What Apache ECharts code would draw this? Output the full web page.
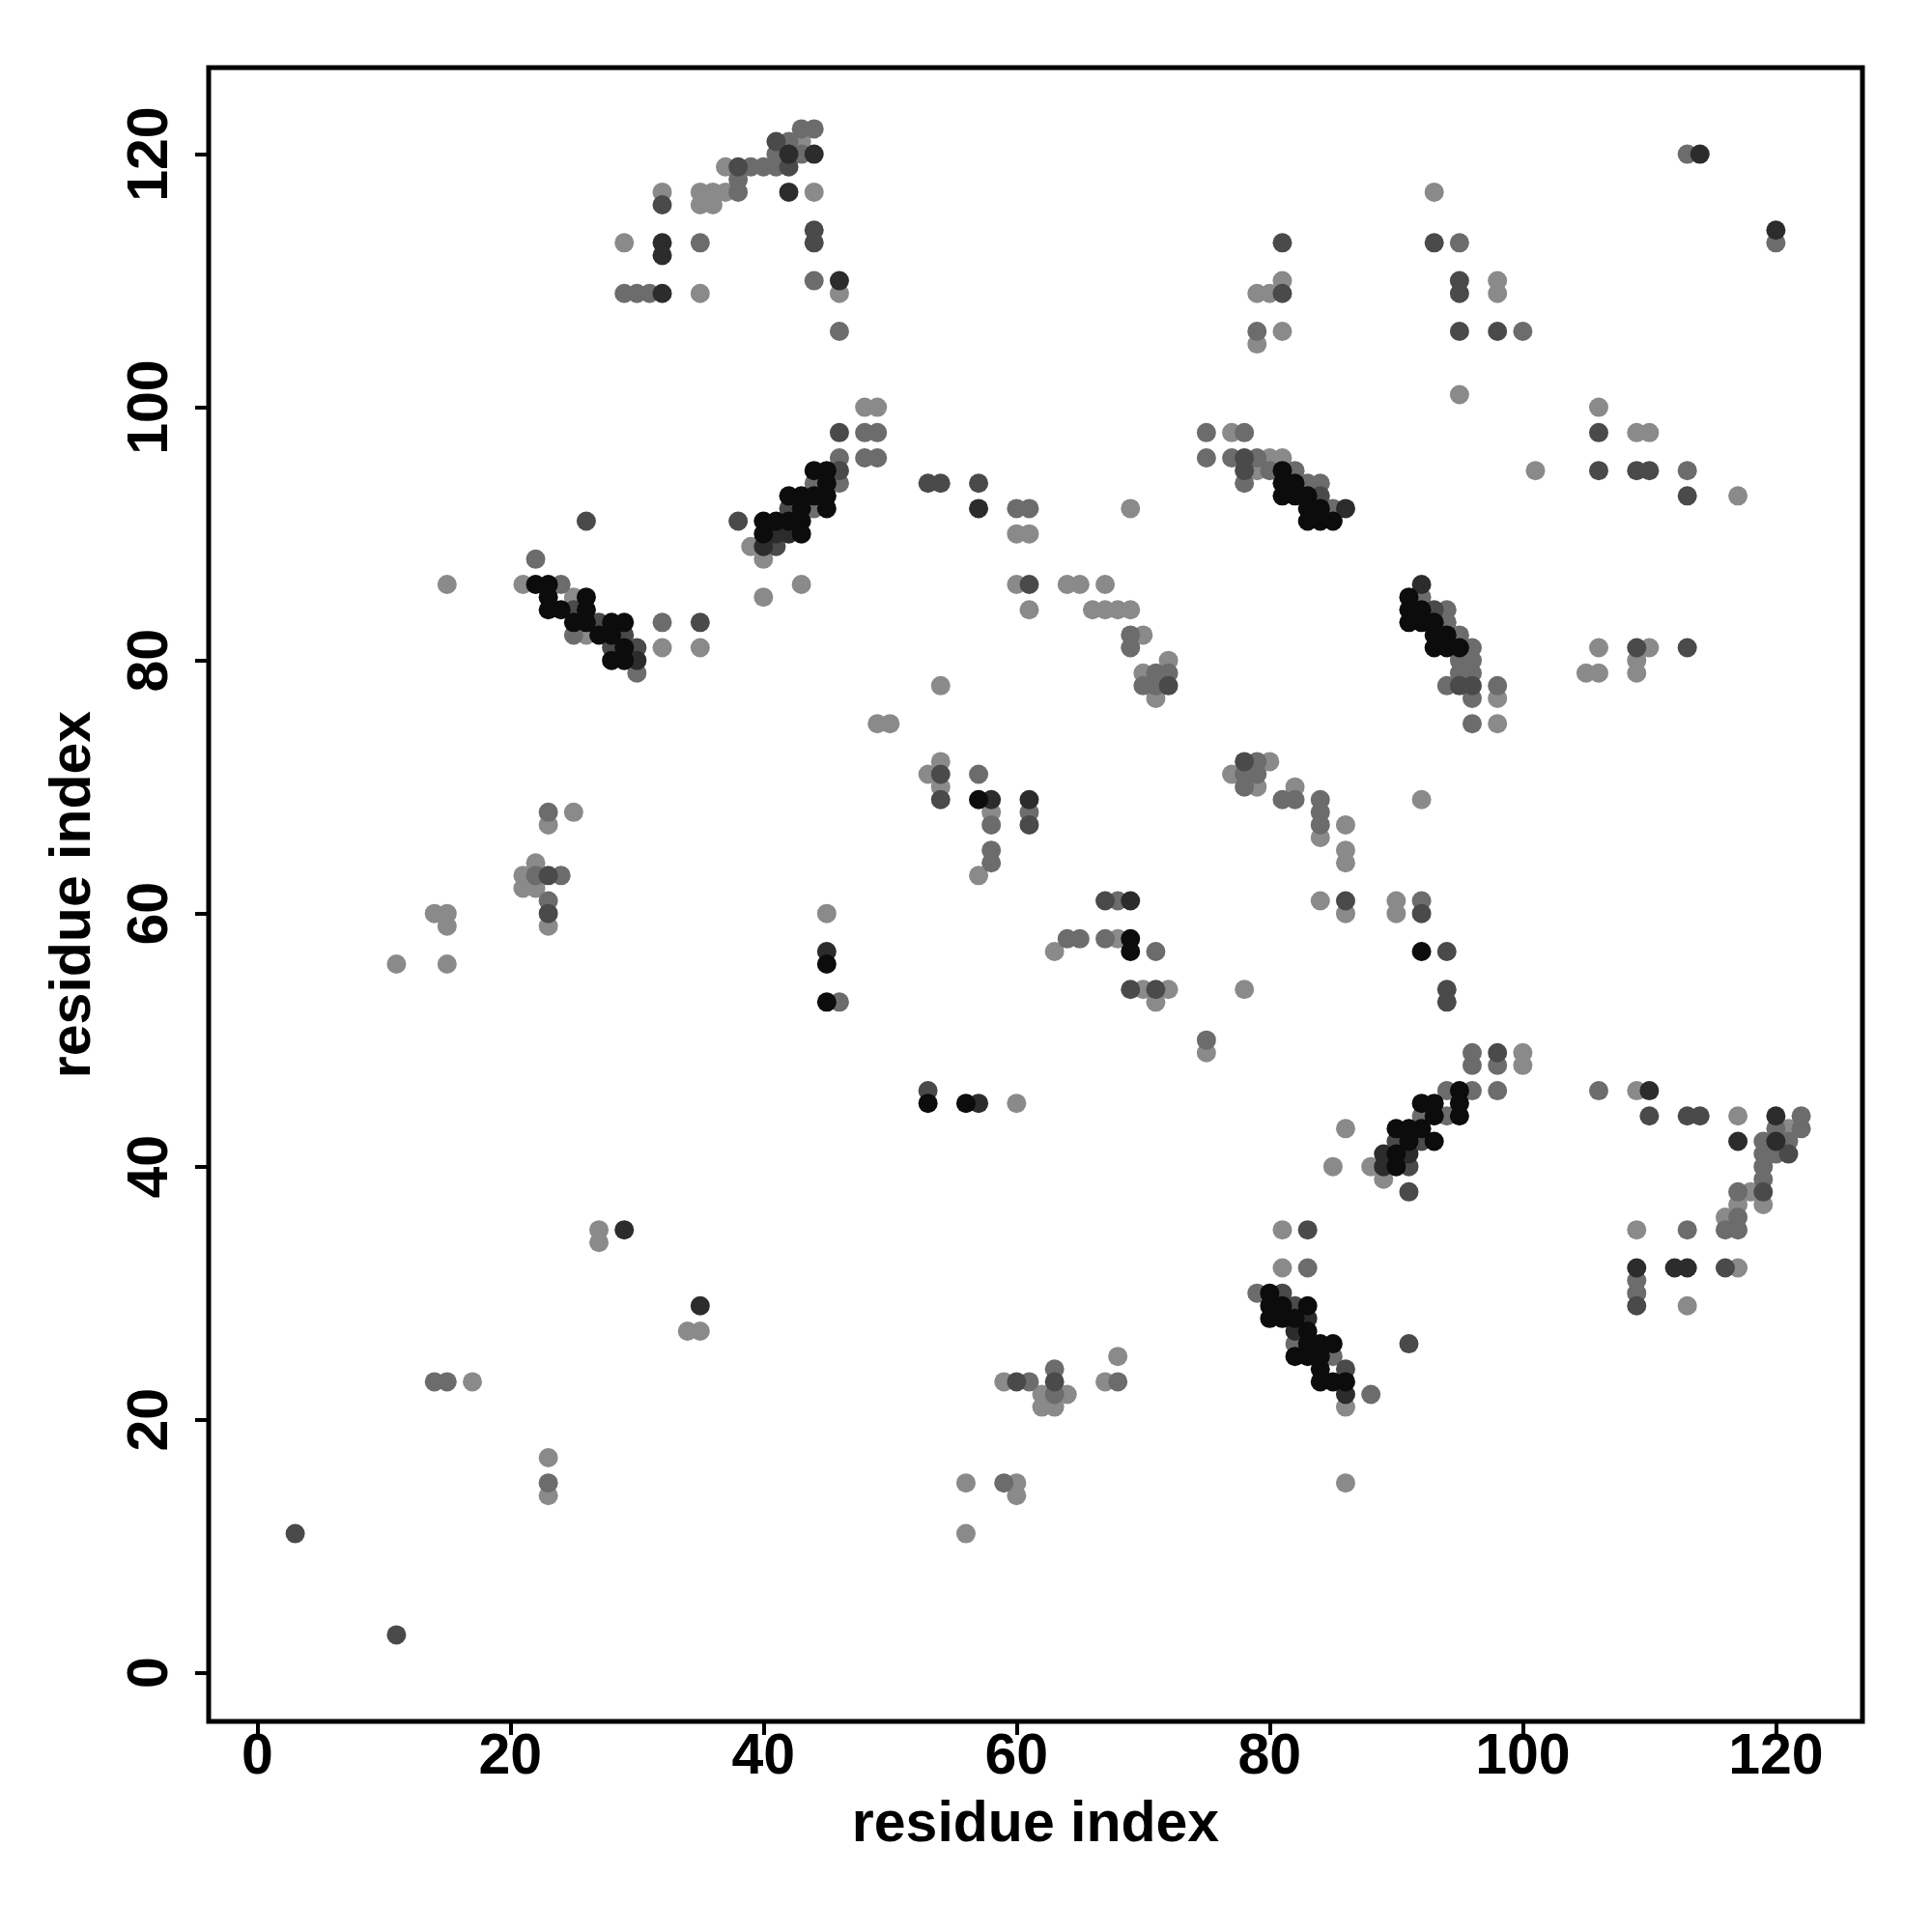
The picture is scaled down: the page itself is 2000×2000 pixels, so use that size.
<!DOCTYPE html>
<html>
<head>
<meta charset="utf-8">
<script src="https://cdn.jsdelivr.net/npm/echarts@6/dist/echarts.min.js"></script>
<style>html,body{margin:0;padding:0;background:#fff}#chart{width:2000px;height:2000px}</style>
</head>
<body>
<div id="chart"></div>
<script>
// Tick labels
const xTicks = [0, 20, 40, 60, 80, 100, 120];
const yTicks = [0, 20, 40, 60, 80, 100, 120];

// Contacts by grey level: [residue i, residue j]
const lightContacts = [
[11,56],[14,60],[15,60],[15,59],[15,56],[15,86],[25,68],[23,67],[22,64],[21,63],[21,62],[22,62],[23,59],
[27,35],[27,34],[17,23],[23,17],[23,14],[34,27],[35,27],[59,23],[62,22],[62,21],[64,22],[63,21],
[56,15],[60,15],[60,14],[56,11],[68,25],[67,23],
[81,35],[81,32],[86,21],[86,15],[89,39],[85,40],[88,40],[86,43],[100,49],[100,48],
[70,82],[72,80],[70,79],[71,77],[66,84],[67,84],[68,84],[69,84],[64,86],[65,86],[67,86],[69,92],
[80,72],[77,71],[79,70],[82,70],[84,66],[86,67],[86,65],[86,64],[92,69],
[84,61],[86,60],[90,61],[90,60],[63,57],[68,58],[70,54],[72,54],[71,53],[78,54],[75,49],
[32,81],[35,81],[54,78],[49,75],[50,75],[54,72],[53,71],[54,70],[58,68],[57,63],[45,60],[60,45],
[43,121],[37,119],[35,117],[36,117],[37,117],[35,116],[36,116],[32,117],[44,117],[29,113],[35,109],[46,109],
[48,100],[49,100],[39,89],[40,88],[40,85],[43,86],[60,90],[61,90],[60,86],[61,84],
[93,117],[81,110],[79,109],[80,109],[79,105],[81,106],[95,101],[77,98],[80,96],[81,96],[79,95],
[98,110],[98,109],[106,100],[109,98],[110,98],[101,95],[117,93],[105,79],[106,79],[106,81],[110,81],[109,80],[109,79],
[98,77],[98,75],[117,44],[121,43],[118,38],[119,37],[117,37],[116,36],[109,35],[117,32],[113,29],[109,46],
[21,86],[25,85],[26,82]
];
const mediumContacts = [
[23,68],[22,63],[24,63],[23,61],[14,23],[15,23],[23,15],[61,23],[63,24],[63,22],[59,15],[68,23],
[83,32],[79,30],[82,26],[85,25],[88,22],[92,44],[94,44],[96,46],[98,46],[96,49],[96,48],[98,48],[94,46],
[69,82],[69,81],[71,79],[72,79],[70,78],[71,78],[79,72],[78,71],[79,71],[78,70],[81,69],[82,69],
[84,69],[84,68],[84,67],[68,61],[92,61],[64,58],[65,58],[67,58],[71,57],[75,50],
[30,79],[32,83],[57,71],[61,68],[58,67],[58,65],[58,64],[46,53],
[43,122],[44,122],[42,121],[41,120],[43,120],[39,119],[40,119],[41,119],[38,118],[38,117],[35,113],
[29,109],[30,109],[31,109],[44,110],[46,106],[48,98],[49,98],[46,96],[48,96],[49,96],[46,94],[44,94],[44,92],
[60,92],[61,92],[95,113],[79,106],[75,98],[78,98],[75,96],[77,96],[79,96],[80,95],[82,95],[78,94],[83,94],[84,94],[85,92],
[92,85],[94,84],[113,120],[120,113],[100,106],[113,95],
[94,83],[95,82],[95,80],[95,79],[94,78],[96,81],[96,80],[96,79],[96,77],[96,75],[98,78],
[122,44],[120,43],[122,43],[119,42],[121,42],[119,41],[120,41],[119,40],[119,39],[117,38],[117,36],[116,35],[117,35],
[113,35],[109,31],[109,30],[106,46],[22,88],[24,86],[25,82]
];
const darkContacts = [
[3,11],[11,3],[23,63],[23,60],[60,23],[63,23],[83,35],[81,30],[82,29],[86,24],[91,26],[91,38],[92,42],[90,42],[91,40],[98,49],
[72,78],[78,72],[67,61],[86,61],[92,60],[94,57],[69,54],[71,54],[94,54],[94,53],
[30,81],[35,83],[54,71],[54,69],[61,67],[53,46],[26,91],
[41,121],[38,119],[42,119],[32,116],[44,114],[44,113],[46,98],[46,95],[42,92],[38,91],[41,89],
[53,94],[54,94],[57,94],[61,86],
[81,113],[93,113],[81,109],[95,110],[95,109],[95,106],[78,96],[78,95],[84,93],[93,84],
[98,106],[106,98],[106,95],[109,95],[110,95],[113,93],[109,81],[113,81],
[95,78],[96,78],[121,41],[109,29],[116,32],[110,44],[113,44],[114,44],[119,38],
[25,84],[27,83],[28,81],[29,82]
];
const veryDarkContacts = [
[29,35],[35,29],[83,28],[82,27],[86,22],[89,41],[91,41],[89,40],
[69,61],[30,80],[57,45],[45,57],[58,69],[61,69],
[42,120],[44,120],[42,117],[32,113],[32,112],[32,109],[46,110],[41,90],[42,90],[40,89],[57,92],[86,92],[92,86],
[114,120],[120,114],[120,44],[117,42],[120,42],[109,32],[112,32],[113,32],[110,46]
];
const blackContacts = [
[80,30],[80,29],[81,29],[83,29],[80,28],[81,28],[82,28],[83,27],[83,26],[84,26],[85,26],[82,25],[83,25],[84,25],[84,24],[84,23],[85,23],[86,23],
[92,45],[93,45],[93,44],[90,43],[91,43],[92,43],[93,42],[91,42],[90,41],[90,40],[95,46],[95,45],[95,44],
[69,58],[69,57],[92,57],
[57,69],[45,56],[45,53],[53,45],[56,45],
[45,95],[44,95],[45,94],[42,93],[43,93],[44,93],[45,93],[43,92],[45,92],[40,91],[41,91],[42,91],[43,91],[40,90],[43,90],
[81,95],[81,94],[82,94],[81,93],[82,93],[83,93],[83,92],[84,92],[83,91],[84,91],[85,91],
[91,85],[91,84],[91,83],[92,84],[92,83],[93,83],[93,82],[93,81],[94,82],[94,81],[95,81],
[22,86],[23,86],[23,85],[24,84],[23,84],[26,85],[26,84],[25,83],[26,83],[27,82],[28,83],[28,82],[28,80],[29,83],[29,81],[29,80]
];

const levels = [
  {name: 'light', data: lightContacts, color: '#8a8a8a'},
  {name: 'medium', data: mediumContacts, color: '#6c6c6c'},
  {name: 'dark', data: darkContacts, color: '#4a4a4a'},
  {name: 'verydark', data: veryDarkContacts, color: '#2c2c2c'},
  {name: 'black', data: blackContacts, color: '#0c0c0c'}
];

const FONT = 'Liberation Sans';
const chart = echarts.init(document.getElementById('chart'), null, {renderer: 'canvas'});
const axisCommon = {
  type: 'value',
  min: -3.84,
  max: 126.84,
  splitLine: {show: false},
  axisLine: {show: false, onZero: false},
  axisTick: {show: true, inside: false, length: 14, lineStyle: {color: '#000', width: 4}},
  axisLabel: {show: true, color: '#000', fontFamily: FONT, fontWeight: 'bold', fontSize: 59},
  name: 'residue index',
  nameLocation: 'middle',
  nameTextStyle: {color: '#000', fontFamily: FONT, fontWeight: 'bold', fontSize: 59}
};
chart.setOption({
  animation: false,
  backgroundColor: '#fff',
  grid: {left: 216, top: 70, width: 1712, height: 1712, show: true, borderColor: '#000', borderWidth: 5, backgroundColor: 'transparent'},
  xAxis: Object.assign({}, axisCommon, {
    axisTick: Object.assign({}, axisCommon.axisTick, {customValues: xTicks}),
    axisLabel: Object.assign({}, axisCommon.axisLabel, {customValues: xTicks, margin: 8}),
    nameGap: 78
  }),
  yAxis: Object.assign({}, axisCommon, {
    axisTick: Object.assign({}, axisCommon.axisTick, {customValues: yTicks}),
    axisLabel: Object.assign({}, axisCommon.axisLabel, {customValues: yTicks, rotate: 90, margin: 30}),
    nameRotate: 90,
    nameGap: 110
  }),
  series: levels.map(l => ({
    type: 'scatter',
    name: l.name,
    data: l.data,
    symbol: 'circle',
    symbolSize: 20,
    itemStyle: {color: l.color, opacity: 1},
    emphasis: {disabled: true}
  }))
});
</script>
</body>
</html>
